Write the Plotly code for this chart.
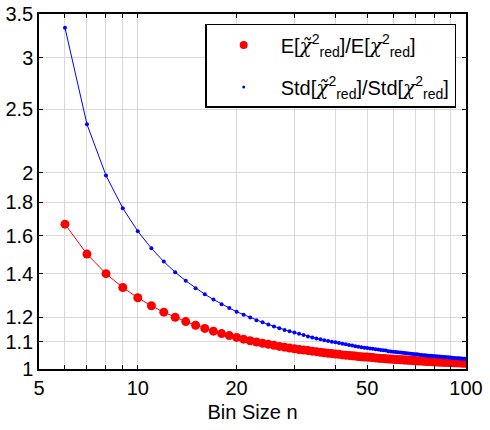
import plotly.graph_objects as go

bin_size = list(range(6, 101))

e_ratio = [
    1.667, 1.5, 1.4, 1.333, 1.286, 1.25, 1.222, 1.2, 1.182, 1.167,
    1.154, 1.143, 1.133, 1.125, 1.118, 1.111, 1.105, 1.1, 1.095, 1.091,
    1.087, 1.083, 1.08, 1.077, 1.074, 1.071, 1.069, 1.067, 1.065, 1.063,
    1.061, 1.059, 1.057, 1.056, 1.054, 1.053, 1.051, 1.05, 1.049, 1.048,
    1.047, 1.045, 1.044, 1.043, 1.043, 1.042, 1.041, 1.04, 1.039, 1.038,
    1.038, 1.037, 1.036, 1.036, 1.035, 1.034, 1.034, 1.033, 1.033, 1.032,
    1.032, 1.031, 1.031, 1.030, 1.030, 1.029, 1.029, 1.029, 1.028, 1.028,
    1.027, 1.027, 1.027, 1.026, 1.026, 1.026, 1.025, 1.025, 1.025, 1.024,
    1.024, 1.024, 1.024, 1.023, 1.023, 1.023, 1.022, 1.022, 1.022, 1.022,
    1.022, 1.021, 1.021, 1.021, 1.021,
]

std_ratio = [
    3.333, 2.372, 1.980, 1.764, 1.626, 1.531, 1.461, 1.407, 1.365, 1.330,
    1.302, 1.278, 1.257, 1.240, 1.224, 1.211, 1.199, 1.188, 1.179, 1.170,
    1.162, 1.155, 1.148, 1.142, 1.137, 1.132, 1.127, 1.122, 1.118, 1.114,
    1.111, 1.107, 1.104, 1.101, 1.099, 1.096, 1.093, 1.091, 1.088, 1.086,
    1.084, 1.082, 1.080, 1.078, 1.077, 1.075, 1.074, 1.072, 1.071, 1.069,
    1.068, 1.067, 1.065, 1.064, 1.063, 1.062, 1.061, 1.060, 1.059, 1.058,
    1.057, 1.056, 1.055, 1.054, 1.053, 1.053, 1.052, 1.051, 1.050, 1.050,
    1.049, 1.048, 1.048, 1.047, 1.046, 1.046, 1.045, 1.045, 1.044, 1.043,
    1.043, 1.042, 1.042, 1.041, 1.041, 1.040, 1.040, 1.039, 1.039, 1.039,
    1.038, 1.038, 1.037, 1.037, 1.037,
]

x_tickvals = [5, 6, 7, 8, 9, 10, 20, 30, 40, 50, 60, 70, 80, 90, 100]
x_ticktext = ["5", "", "", "", "", "10", "20", "", "", "50", "", "", "", "", "100"]
y_tickvals = [1, 1.1, 1.2, 1.4, 1.6, 1.8, 2, 2.5, 3, 3.5]
y_ticktext = ["1", "1.1", "1.2", "1.4", "1.6", "1.8", "2", "2.5", "3", "3.5"]

CHI_T = "<span style=\"font-family:'DejaVu Serif'\"><i>χ\u0303</i></span>"
CHI = "<span style=\"font-family:'DejaVu Serif'\"><i>χ</i></span>"
name_e = f"E[{CHI_T}<sup>2</sup><sub>red</sub>]/E[{CHI}<sup>2</sup><sub>red</sub>]"
name_s = f"Std[{CHI_T}<sup>2</sup><sub>red</sub>]/Std[{CHI}<sup>2</sup><sub>red</sub>]"

RED = "#ff0000"
BLUE = "#0000ff"
FONT = "Liberation Sans, Arial, sans-serif"

fig = go.Figure()
fig.add_trace(go.Scatter(
    x=bin_size, y=e_ratio, mode="lines+markers", showlegend=False,
    line=dict(color=RED, width=1),
    marker=dict(color=RED, size=9),
))
fig.add_trace(go.Scatter(
    x=bin_size, y=std_ratio, mode="lines+markers", showlegend=False,
    line=dict(color=BLUE, width=1),
    marker=dict(color=BLUE, size=4),
))
# legend entries (marker only, as in the reference)
fig.add_trace(go.Scatter(
    x=[None], y=[None], mode="markers", name=name_e, legendgroup="a",
    marker=dict(color=RED, size=8),
))
fig.add_trace(go.Scatter(
    x=[None], y=[None], mode="markers", name=name_s, legendgroup="b",
    marker=dict(color=BLUE, size=3),
))

axis_common = dict(
    showline=True, linecolor="black", linewidth=1.5, mirror="ticks",
    ticks="inside", ticklen=4, tickcolor="black", tickwidth=1,
    showgrid=True, gridcolor="#d9d9d9", gridwidth=1, zeroline=False,
    automargin=False,
    tickfont=dict(family=FONT, size=20, color="black"),
)

fig.update_layout(
    width=490, height=430,
    margin=dict(l=39, r=24, t=14, b=61),
    paper_bgcolor="white", plot_bgcolor="white",
    font=dict(family=FONT, size=20, color="black"),
    xaxis=dict(
        type="log", range=[0.69897, 2.0],
        tickmode="array", tickvals=x_tickvals, ticktext=x_ticktext,
        title=dict(text="Bin Size n", font=dict(size=20), standoff=7),
        **axis_common,
    ),
    yaxis=dict(
        type="log", range=[0, 0.544068],
        tickmode="array", tickvals=y_tickvals, ticktext=y_ticktext,
        **axis_common,
    ),
    legend=dict(
        x=0.977, y=0.972, xanchor="right", yanchor="top",
        bgcolor="white", bordercolor="black", borderwidth=1.5,
        font=dict(family=FONT, size=20), itemwidth=64,
        traceorder="grouped", tracegroupgap=13,
    ),
)

fig.write_html("out.html")
